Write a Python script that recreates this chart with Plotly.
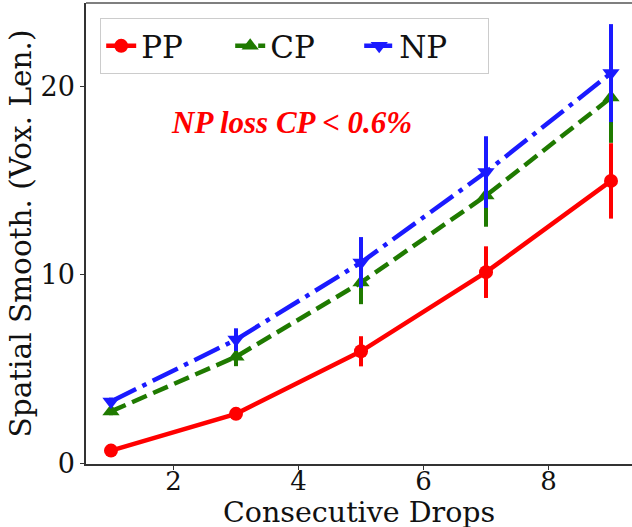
import plotly.graph_objects as go

drops = [1, 3, 5, 7, 9]
pp = [0.67, 2.62, 5.94, 10.14, 14.98]
pp_err = [0.1, 0.15, 0.8, 1.37, 2.0]
cp = [2.75, 5.65, 9.59, 14.2, 19.4]
cp_err = [0.2, 0.5, 1.15, 1.65, 2.4]
np_ = [3.28, 6.56, 10.65, 15.45, 20.7]
np_err = [0.2, 0.6, 1.35, 1.9, 2.6]

LW = 4.5
fig = go.Figure()

def add(name, y, err, color, symbol, dash, rank, size):
    fig.add_trace(go.Scatter(
        x=drops, y=y, name=name, mode="lines+markers", legendrank=rank,
        line=dict(color=color, width=LW, dash=dash),
        marker=dict(symbol=symbol, size=size, color=color),
        error_y=dict(type="data", array=err, visible=True, color=color,
                     thickness=4, width=0),
    ))

add("CP", cp, cp_err, "#1f7a00", "triangle-up", "16px,7px", 2, 15)
add("PP", pp, pp_err, "#ff0000", "circle", "solid", 1, 14)
add("NP", np_, np_err, "#1a1aff", "triangle-down", "28px,7px,4.5px,7px", 3, 15)

serif = "DejaVu Serif"
fig.add_annotation(x=3.88, y=18.1, xref="x", yref="y", showarrow=False,
                   text="<b><i>NP loss CP &lt; 0.6%</i></b>",
                   font=dict(family="Liberation Serif", size=31, color="#ff0000"))
fig.add_annotation(x=0.5, y=-0.106, xref="paper", yref="paper", showarrow=False,
                   xanchor="center", yanchor="middle", text="Consecutive Drops",
                   font=dict(family=serif, size=28.5, color="#111"))

fig.update_layout(
    width=632, height=527,
    margin=dict(l=86, r=0, t=3, b=63),
    plot_bgcolor="white", paper_bgcolor="white",
    font=dict(family=serif, color="#111"),
    legend=dict(orientation="h", x=0.026, y=0.967, xanchor="left", yanchor="top",
                font=dict(family=serif, size=31), bgcolor="white",
                bordercolor="#cccccc", borderwidth=1, entrywidth=84,
                traceorder="normal"),
    xaxis=dict(range=[0.6, 9.336], tickvals=[2, 4, 6, 8], showgrid=False,
               zeroline=False, showline=True, linecolor="#333", linewidth=1.5,
               mirror=False, ticks="outside", ticklen=4, tickcolor="#333",
               automargin=False, ticklabelstandoff=-11,
               tickfont=dict(size=26, family=serif)),
    yaxis=dict(range=[-0.04, 24.42], tickvals=[0, 10, 20], showgrid=False,
               zeroline=False, showline=True, linecolor="#333", linewidth=1.5,
               ticks="outside", ticklen=4, tickcolor="#333", automargin=False,
               tickfont=dict(size=27, family=serif),
               title=dict(text="Spatial Smooth. (Vox. Len.)",
                          font=dict(size=29.5, family=serif), standoff=0)),
)
fig.add_shape(type="line", xref="paper", yref="paper", x0=0, x1=1, y0=1, y1=1,
              line=dict(color="#555", width=1.5))
fig.write_html("out.html", config={"displayModeBar": False},
               post_script="document.body.style.margin='0';document.body.style.overflow='hidden';")
